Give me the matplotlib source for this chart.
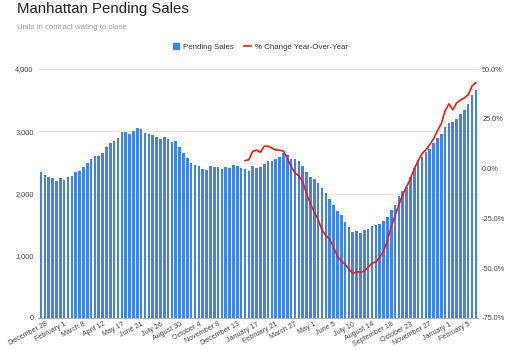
import numpy as np
import matplotlib
matplotlib.use("Agg")
import matplotlib.pyplot as plt
import matplotlib.transforms as mtransforms
from matplotlib.lines import Line2D
from matplotlib.ticker import FuncFormatter

plt.rcParams['font.family'] = ['Liberation Sans', 'DejaVu Sans']

# weekly pending sales (units in contract)
pending = [2342, 2299, 2267, 2246, 2198, 2251, 2214, 2267, 2283, 2342,
           2363, 2428, 2492, 2551, 2604, 2604, 2658, 2744, 2808, 2840,
           2894, 2985, 2995, 2958, 3006, 3054, 3033, 2974, 2958, 2937,
           2910, 2883, 2915, 2873, 2834, 2840, 2749, 2648, 2572, 2487,
           2460, 2439, 2395, 2379, 2439, 2433, 2428, 2395, 2428, 2417,
           2460, 2444, 2412, 2401, 2363, 2449, 2406, 2433, 2476, 2529,
           2524, 2561, 2593, 2653, 2620, 2561, 2561, 2519, 2444, 2352,
           2262, 2225, 2170, 2090, 2015, 1913, 1811, 1725, 1651, 1543,
           1468, 1378, 1404, 1371, 1415, 1436, 1479, 1500, 1506, 1564,
           1629, 1736, 1822, 1966, 2037, 2111, 2262, 2406, 2540, 2593,
           2674, 2712, 2808, 2889, 2958, 3066, 3140, 3156, 3194, 3275,
           3344, 3440, 3585, 3666]

# year-over-year change (%), starts one year into the series
yoy_start = 53
yoy = [4.0, 4.5, 8.7, 9.3, 8.2, 11.3, 11.3, 10.3, 9.3, 9.3,
       8.7, 5.2, 1.0, -2.2, -3.7, -6.5, -12.7, -17.5, -22.0, -25.5,
       -31.0, -33.5, -35.5, -39.5, -44.0, -46.3, -48.0, -50.5, -52.7, -51.8,
       -52.0, -51.5, -49.5, -47.5, -46.8, -44.5, -41.5, -36.0, -29.0, -23.5,
       -18.0, -13.0, -9.0, -5.0, 0.0, 4.0, 7.5, 9.5, 12.0, 15.0,
       19.0, 22.5, 29.0, 32.5, 29.5, 33.0, 34.5, 35.5, 37.0, 41.5,
       43.2]

tick_labels = ['December 28', 'February 1', 'March 8', 'April 12', 'May 17',
               'June 21', 'July 26', 'August 30', 'October 4', 'November 8',
               'December 13', 'January 17', 'February 21', 'March 27', 'May 1',
               'June 5', 'July 10', 'August 14', 'September 18', 'October 23',
               'November 27', 'January 1', 'February 5']
tick_every = 5

blue = '#3F82F4'
red = '#EE1C0E'
txt = '#444444'

fig = plt.figure(figsize=(5.12, 3.5), dpi=100)
ax = fig.add_axes([38 / 512, 1 - 318 / 350, 440 / 512, 249 / 350])

x = np.arange(len(pending))
ax.bar(x, pending, width=0.68, color=blue, zorder=2)
ax.set_xlim(-0.8, len(pending) - 0.45)
ax.set_ylim(0, 4000)
ax.set_yticks([0, 1000, 2000, 3000, 4000])
ax.yaxis.set_major_formatter(FuncFormatter(lambda v, p: f'{int(v):,}'))
ax.grid(axis='y', color='#e3e3e3', linewidth=0.8, zorder=0)
ax.set_axisbelow(True)

ticks = np.arange(0, len(tick_labels) * tick_every, tick_every)
ax.set_xticks(ticks)
ax.set_xticklabels(tick_labels, rotation=28, ha='right', rotation_mode='anchor')
ax.tick_params(axis='both', length=0, labelsize=5.3, labelcolor=txt)
ax.tick_params(axis='x', labelsize=5.1, pad=2)
ax.tick_params(axis='y', pad=3)
# nudge the rotated date labels right a little
shift = mtransforms.ScaledTranslation(4 / 100, 0, fig.dpi_scale_trans)
for lab in ax.get_xticklabels():
    lab.set_transform(lab.get_transform() + shift)

for s in ['top', 'left', 'right']:
    ax.spines[s].set_visible(False)
ax.spines['bottom'].set_color('#b0b0b0')
ax.spines['bottom'].set_linewidth(0.9)
ax.spines['bottom'].set_zorder(3)

ax2 = ax.twinx()
xr = np.arange(yoy_start, yoy_start + len(yoy))
ax2.plot(xr, yoy, color=red, linewidth=1.2, zorder=4)
ax2.set_ylim(-75, 50)
ax2.set_yticks([-75, -50, -25, 0, 25, 50])
ax2.yaxis.set_major_formatter(FuncFormatter(lambda v, p: f'{v:.1f}%'))
ax2.tick_params(axis='y', length=0, labelsize=5.3, labelcolor=txt, pad=3)
for s in ['top', 'left', 'right', 'bottom']:
    ax2.spines[s].set_visible(False)

fig.text(17 / 512, 1 - 12.7 / 350, 'Manhattan Pending Sales', fontsize=10.8,
         color='#222222', va='baseline', ha='left')
fig.text(17 / 512, 1 - 28.7 / 350, 'Units in contract wating to close', fontsize=5.6,
         color='#9a9a9a', va='baseline', ha='left')

handles = [Line2D([], [], marker='s', linestyle='none', color=blue, markersize=3.8),
           Line2D([], [], color=red, linewidth=1.2)]
fig.legend(handles, ['Pending Sales', '% Change Year-Over-Year'], loc='center',
           bbox_to_anchor=(0.508, 1 - 47.5 / 350), ncol=2, frameon=False,
           fontsize=5.7, handlelength=0.9, handletextpad=0.5, columnspacing=1.3,
           labelcolor='#333333')

fig.savefig('out.png', dpi=100, facecolor='white')
